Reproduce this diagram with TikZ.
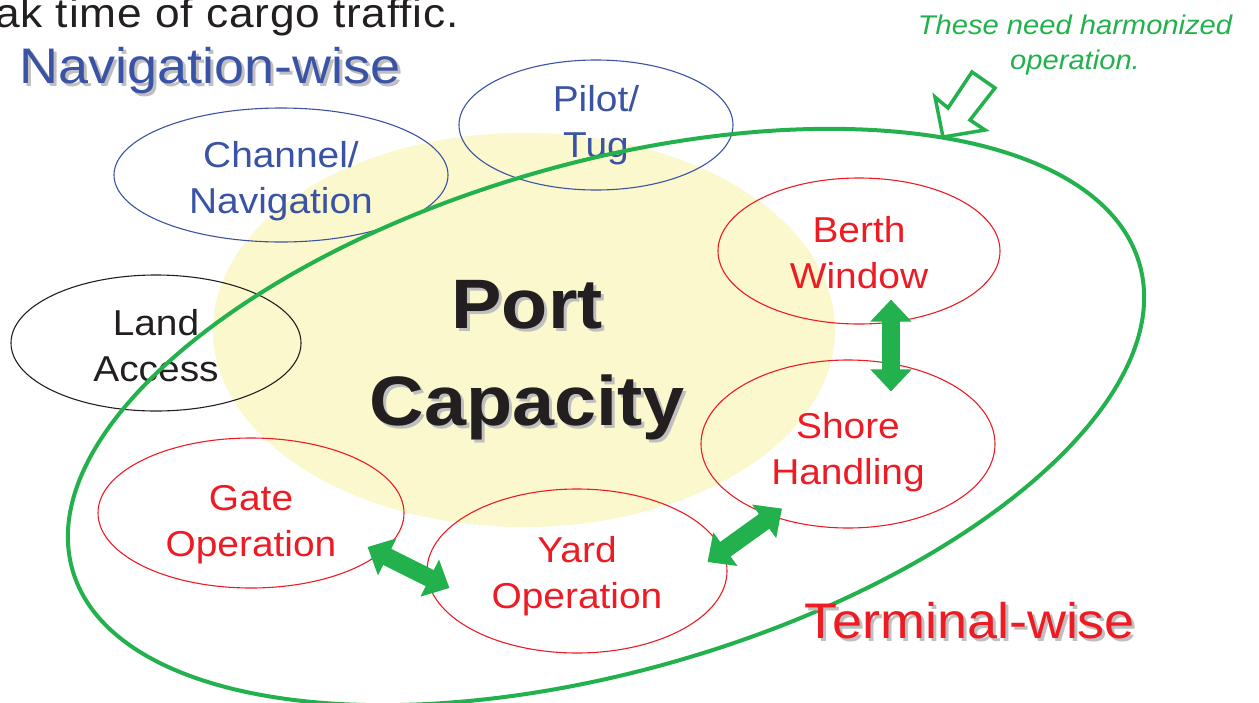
\documentclass[tikz,border=0pt]{standalone}
\usepackage{fontspec}
\setmainfont{Liberation Sans}[FakeStretch=1.08]
\usetikzlibrary{shapes.geometric,arrows.meta}
\definecolor{navblue}{RGB}{58,83,164}
\definecolor{termred}{RGB}{237,28,36}
\definecolor{harmgreen}{RGB}{34,177,76}
\definecolor{capyellow}{RGB}{250,248,204}
\definecolor{inkblack}{RGB}{35,31,32}
\newcommand{\padtop}[1]{\rule{0pt}{#1}}
\tikzset{
  oval/.style={ellipse, draw, line width=1.1pt, inner sep=0pt, align=center,
    font=\fontsize{36}{46}\selectfont},
  navoval/.style={oval, draw=navblue, text=navblue},
  termoval/.style={oval, draw=termred, text=termred},
  landoval/.style={oval, draw=inkblack, text=inkblack},
  linkarrow/.style={harmgreen, line width=18pt,
    arrows={Triangle[width=40pt,length=22pt]-Triangle[width=40pt,length=22pt]}},
  headfont/.style={font=\fontsize{50}{50}\selectfont, anchor=base},
}

\begin{document}
\begin{tikzpicture}[x=1pt,y=-1pt]
  \useasboundingbox (0,0) rectangle (1259,702);
  \clip (0,0) rectangle (1259,702);

  \fill[capyellow] (524,330) ellipse [x radius=311, y radius=197];

  \node[inkblack, anchor=base east, inner sep=0pt,
    font=\fontsize{41}{41}\selectfont\addfontfeature{LetterSpace=2}] (peak) at (459,27) {ak time of cargo traffic.};
  \node[headfont, text=black!25] (navshadow) at (213,86) {Navigation-wise};
  \node[headfont, text=navblue] (navwise) at (210,83) {Navigation-wise};

  \node[text=black!25, align=center, font=\bfseries\fontsize{70}{97}\selectfont] (portshadow) at (530,363) {Port\\Capacity};
  \node[text=inkblack, align=center, font=\bfseries\fontsize{70}{97}\selectfont] (port) at (527,360) {Port\\Capacity};

  % outer factors
  \node[navoval, minimum width=334pt, minimum height=134pt] (channel) at (281,175) {\padtop{38pt}Channel/\\Navigation};
  \node[navoval, minimum width=274pt, minimum height=130pt] (pilot) at (596,125) {Pilot/\\Tug};
  \node[landoval, minimum width=290pt, minimum height=136pt] (land) at (156,343) {\padtop{32pt}Land\\Access};

  % terminal factors
  \node[termoval, minimum width=282pt, minimum height=146pt] (berth) at (859,251) {\padtop{30pt}Berth\\Window};
  \node[termoval, minimum width=294pt, minimum height=168pt] (shore) at (848,444) {\padtop{42pt}Shore\\Handling};
  \node[termoval, minimum width=306pt, minimum height=150pt] (gate) at (251,513) {\padtop{48pt}Gate\\Operation};
  \node[termoval, minimum width=300pt, minimum height=164pt] (yard) at (577,571) {\padtop{36pt}Yard\\Operation};

  \draw[harmgreen, line width=4pt, rotate around={16:(606,417)}] (606,417) ellipse [x radius=555, y radius=254];
  \draw[harmgreen, line width=3.5pt, fill=white] (943,137) -- (935,97) -- (948,108) -- (972,72)
    -- (995,88) -- (970,120) -- (985,130) -- cycle;
  \node[text=harmgreen, align=center, inner sep=0pt,
    font=\itshape\fontsize{27}{35}\selectfont] (note) at (1075,45) {These need harmonized\\operation.};

  \node[headfont, text=black!25] (termshadow) at (973,641) {Terminal-wise};
  \node[headfont, text=termred] (termwise) at (970,638) {Terminal-wise};

  \draw[linkarrow] ([xshift=32pt,yshift=25pt]berth.south) -- ([xshift=43pt,yshift=-32pt]shore.north);
  \draw[linkarrow] ([xshift=-37pt,yshift=-34pt]gate.east) -- ([xshift=23pt,yshift=-17pt]yard.west);
  \draw[linkarrow] ([xshift=-20pt,yshift=9pt]yard.east) -- ([xshift=-66pt,yshift=20pt]shore.south);
\end{tikzpicture}
\end{document}
